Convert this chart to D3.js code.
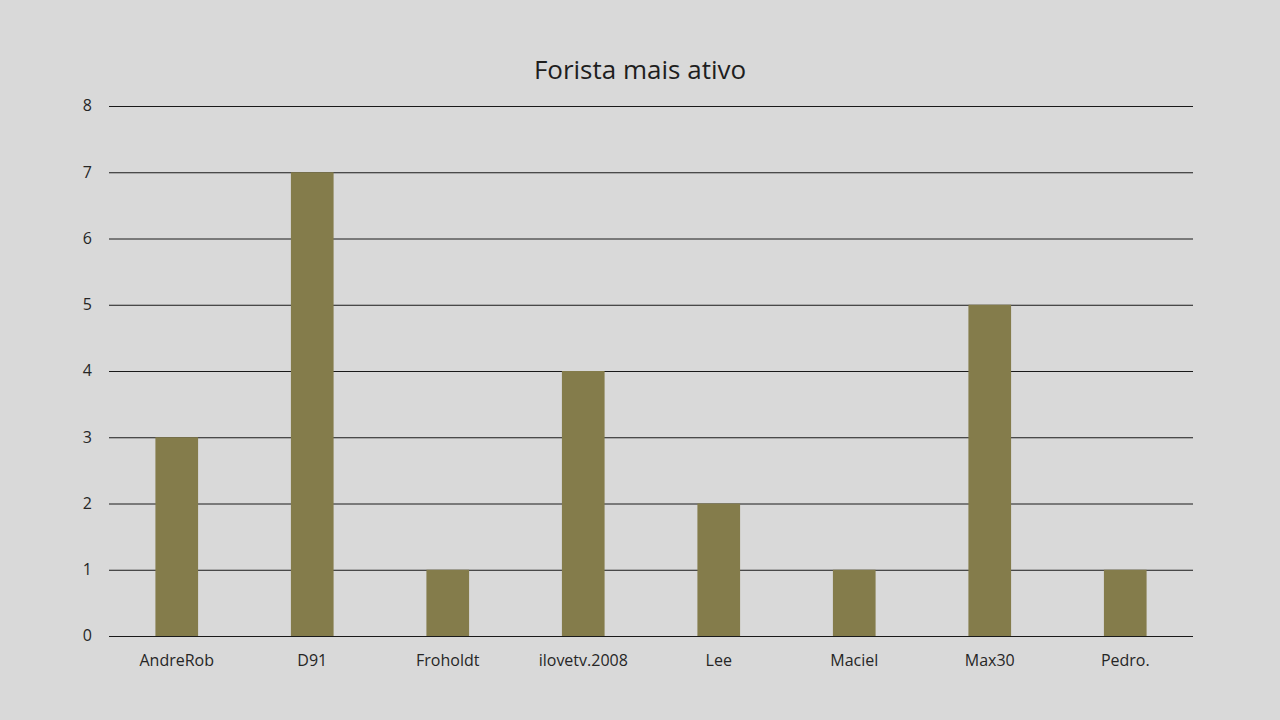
<!DOCTYPE html>
<html>
<head>
<meta charset="utf-8">
<script src="https://cdn.jsdelivr.net/npm/d3@7"></script>
<style>
  html, body { margin: 0; padding: 0; background: #d9d9d9; }
  svg { display: block; font-family: "Open Sans", "Noto Sans", sans-serif; }
</style>
</head>
<body>
<svg id="chart" width="1280" height="720"></svg>
<script>
// Posts per forum member
const categories = ["AndreRob", "D91", "Froholdt", "ilovetv.2008", "Lee", "Maciel", "Max30", "Pedro."];
const values = [3, 7, 1, 4, 2, 1, 5, 1];
const yTicks = [0, 1, 2, 3, 4, 5, 6, 7, 8];
const title = "Forista mais ativo";

const FONT = '"Open Sans", "Noto Sans", sans-serif';
const svg = d3.select("#chart");
const W = 1280, H = 720;
const plot = { left: 109, right: 1193, top: 106, bottom: 636 };

svg.append("rect").attr("width", W).attr("height", H).attr("fill", "#d9d9d9");

const x = d3.scaleBand()
  .domain(categories)
  .range([plot.left, plot.right])
  .paddingInner(0.685)
  .paddingOuter(0.3425);

const y = d3.scaleLinear().domain([0, 8]).range([plot.bottom, plot.top]);

// Horizontal gridlines with tick labels
const yAxis = d3.axisLeft(y)
  .tickValues(yTicks)
  .tickSize(-(plot.right - plot.left))
  .tickPadding(17)
  .tickFormat(d3.format("d"));

const gy = svg.append("g")
  .attr("transform", `translate(${plot.left},0)`)
  .call(yAxis)
  .attr("font-family", FONT)
  .attr("font-size", 16);
gy.select(".domain").remove();
gy.selectAll(".tick line").attr("stroke", "#1a1a1a").attr("stroke-width", 1);
gy.selectAll(".tick text").attr("fill", "#262626").attr("dy", "0.3em");

// Bars
svg.append("g")
  .selectAll("rect")
  .data(values)
  .join("rect")
  .attr("x", (d, i) => x(categories[i]))
  .attr("width", x.bandwidth())
  .attr("y", d => y(d))
  .attr("height", d => y(0) - y(d))
  .attr("fill", "#847c4b");

// Category labels
const xAxis = d3.axisBottom(x).tickSize(0).tickPadding(19);
const gx = svg.append("g")
  .attr("transform", `translate(0,${plot.bottom})`)
  .call(xAxis)
  .attr("font-family", FONT)
  .attr("font-size", 16);
gx.select(".domain").remove();
gx.selectAll(".tick text").attr("fill", "#262626");

// Title
svg.append("text")
  .attr("x", 640)
  .attr("y", 79)
  .attr("text-anchor", "middle")
  .attr("fill", "#1e1e1e")
  .attr("font-family", FONT)
  .attr("font-size", 26)
  .text(title);
</script>
</body>
</html>
